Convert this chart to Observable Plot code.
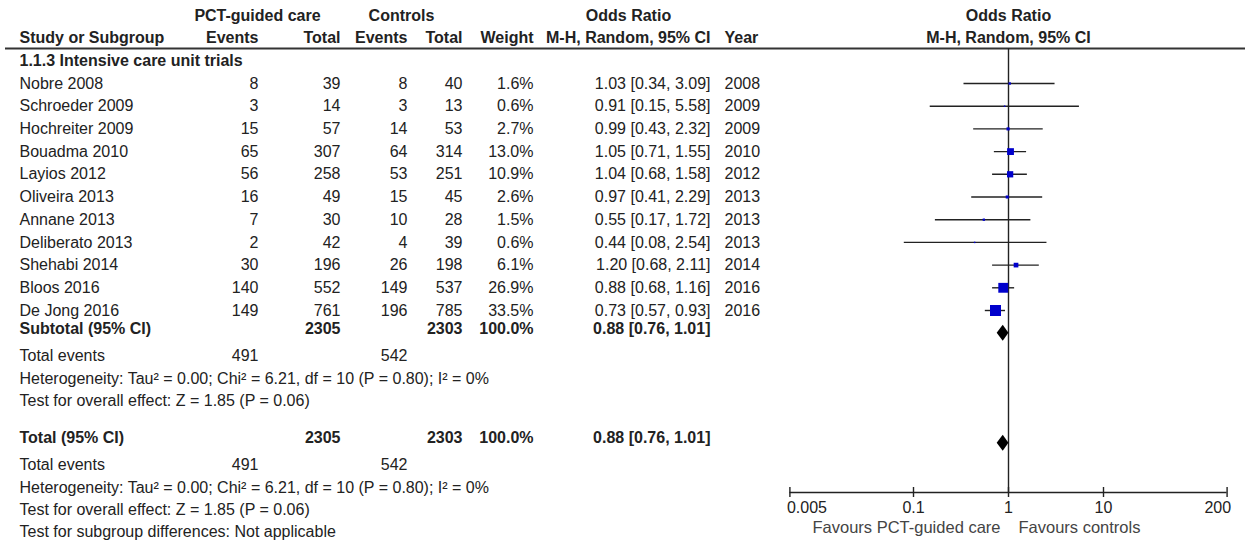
<!DOCTYPE html>
<html><head><meta charset="utf-8">
<script src="https://cdn.jsdelivr.net/npm/d3@7"></script>
<script src="https://cdn.jsdelivr.net/npm/@observablehq/plot@0.6"></script>
<style>body{margin:0;background:#fff}</style>
</head><body><div id="chart"></div>
<script>
// ---------- data ----------
const studies = ["Nobre 2008","Schroeder 2009","Hochreiter 2009","Bouadma 2010","Layios 2012","Oliveira 2013","Annane 2013","Deliberato 2013","Shehabi 2014","Bloos 2016","De Jong 2016"];
const pctEvents = [8,3,15,65,56,16,7,2,30,140,149];
const pctTotal = [39,14,57,307,258,49,30,42,196,552,761];
const ctrlEvents = [8,3,14,64,53,15,10,4,26,149,196];
const ctrlTotal = [40,13,53,314,251,45,28,39,198,537,785];
const weights = [1.6,0.6,2.7,13.0,10.9,2.6,1.5,0.6,6.1,26.9,33.5];
const oddsRatio = [1.03,0.91,0.99,1.05,1.04,0.97,0.55,0.44,1.20,0.88,0.73];
const ciLow = [0.34,0.15,0.43,0.71,0.68,0.41,0.17,0.08,0.68,0.68,0.57];
const ciHigh = [3.09,5.58,2.32,1.55,1.58,2.29,1.72,2.54,2.11,1.16,0.93];
const years = [2008,2009,2009,2010,2012,2013,2013,2013,2014,2016,2016];

const pooledOR = 0.88, pooledLow = 0.76, pooledHigh = 1.01;
const sumPctTotal = 2305, sumCtrlTotal = 2303, sumWeight = 100.0;
const sumPctEvents = 491, sumCtrlEvents = 542;
const heterogeneityText = "Heterogeneity: Tau² = 0.00; Chi² = 6.21, df = 10 (P = 0.80); I² = 0%";
const overallText = "Test for overall effect: Z = 1.85 (P = 0.06)";
const subgroupText = "Test for subgroup differences: Not applicable";
const axisTicks = [0.005, 0.1, 1, 10, 200];
const axisTickLabels = ["0.005","0.1","1","10","200"];

// ---------- layout ----------
const W = 1245, H = 552;
const rowStep = 22.7, row0 = 83, axisPx = 492;
const axisRow = (axisPx - row0) / rowStep;
const headerLineRow = (48 - row0) / rowStep;
const n = studies.length;
const R = {subtotal: n - 0.2, subDiamond: n, events1: n + 1, het1: n + 2, test1: n + 3,
  total: n + 4.6, totDiamond: n + 4.85, events2: n + 5.8, het2: n + 6.8, test2: n + 7.8,
  subgroup: n + 8.75, favours: n + 8.56};
const diamondHalf = 8 / rowStep;
const ink = "#222";

const f2 = d3.format(".2f"), f1 = d3.format(".1f");
const ciText = (o, l, h) => `${f2(o)} [${f2(l)}, ${f2(h)}]`;
const s = v => String(v);

const studyRows = studies.map((name, i) => ({
  row: i, name, pe: s(pctEvents[i]), pt: s(pctTotal[i]), ce: s(ctrlEvents[i]), ct: s(ctrlTotal[i]),
  wt: f1(weights[i]) + "%", ci: ciText(oddsRatio[i], ciLow[i], ciHigh[i]), year: s(years[i]),
  or: oddsRatio[i], lo: ciLow[i], hi: ciHigh[i], w: weights[i]
}));
const regularRows = [
  ...studyRows,
  {row: R.events1, name: "Total events", pe: s(sumPctEvents), ce: s(sumCtrlEvents)},
  {row: R.het1, name: heterogeneityText},
  {row: R.test1, name: overallText},
  {row: R.events2, name: "Total events", pe: s(sumPctEvents), ce: s(sumCtrlEvents)},
  {row: R.het2, name: heterogeneityText},
  {row: R.test2, name: overallText},
  {row: R.subgroup, name: subgroupText}
];
const boldRows = [
  {row: -2, name: "Study or Subgroup", pe: "Events", pt: "Total", ce: "Events", ct: "Total", wt: "Weight", ci: "M-H, Random, 95% CI", year: "Year"},
  {row: -1, name: "1.1.3 Intensive care unit trials"},
  {row: R.subtotal, name: "Subtotal (95% CI)", pt: s(sumPctTotal), ct: s(sumCtrlTotal), wt: f1(sumWeight) + "%", ci: ciText(pooledOR, pooledLow, pooledHigh)},
  {row: R.total, name: "Total (95% CI)", pt: s(sumPctTotal), ct: s(sumCtrlTotal), wt: f1(sumWeight) + "%", ci: ciText(pooledOR, pooledLow, pooledHigh)}
];
const columns = [
  {key: "name", x: 19, anchor: "start"},
  {key: "pe", x: 258, anchor: "end"},
  {key: "pt", x: 340, anchor: "end"},
  {key: "ce", x: 407, anchor: "end"},
  {key: "ct", x: 462, anchor: "end"},
  {key: "wt", x: 533, anchor: "end"},
  {key: "ci", x: 710, anchor: "end"},
  {key: "year", x: 724, anchor: "start"}
];
const groupHeaders = [
  {text: "PCT-guided care", x: 257},
  {text: "Controls", x: 401},
  {text: "Odds Ratio", x: 628}
];

const tableMarks = columns.flatMap(c => [
  Plot.text(regularRows.filter(d => d[c.key] != null), {y: "row", text: c.key, frameAnchor: "left", dx: c.x, textAnchor: c.anchor, fill: ink}),
  Plot.text(boldRows.filter(d => d[c.key] != null), {y: "row", text: c.key, frameAnchor: "left", dx: c.x, textAnchor: c.anchor, fill: ink, fontWeight: "bold"})
]);
const groupMarks = groupHeaders.map(g =>
  Plot.text([g], {y: () => -3, text: "text", frameAnchor: "left", dx: g.x, textAnchor: "middle", fontWeight: "bold", fill: ink}));

const diamonds = [
  {g: "sub", row: R.subDiamond}, {g: "tot", row: R.totDiamond}
].flatMap(d => [
  {g: d.g, x: pooledLow, y1: d.row, y2: d.row},
  {g: d.g, x: pooledOR, y1: d.row - diamondHalf, y2: d.row + diamondHalf},
  {g: d.g, x: pooledHigh, y1: d.row, y2: d.row}
]);

const chart = Plot.plot({
  width: W, height: H,
  marginTop: 0, marginLeft: 0, marginRight: 0, marginBottom: H - axisPx,
  style: {fontFamily: "'Liberation Sans', Arial, sans-serif", fontSize: "16px", background: "#fff"},
  x: {type: "log", domain: [0.005, 200], range: [1008 - 95 * Math.log10(200), 1008 + 95 * Math.log10(200)], axis: null},
  y: {type: "linear", domain: [-row0 / rowStep, axisRow], range: [0, axisPx], axis: null},
  r: {type: "sqrt", domain: [0, d3.max(weights)], range: [0, 6.2]},
  marks: [
    Plot.ruleY([headerLineRow], {stroke: "#333", strokeWidth: 2, insetLeft: 5}),
    Plot.ruleX([1], {y1: headerLineRow, y2: axisRow, stroke: ink, strokeWidth: 1.4}),
    Plot.ruleY(studyRows, {y: "row", x1: "lo", x2: "hi", stroke: ink, strokeWidth: 1.4}),
    Plot.dot(studyRows, {x: "or", y: "row", r: "w", symbol: "square", fill: "#0000cc"}),
    Plot.areaY(diamonds, {x: "x", y1: "y1", y2: "y2", z: "g", fill: "#000", curve: "linear"}),
    Plot.ruleY([axisRow], {x1: axisTicks[0], x2: axisTicks[axisTicks.length - 1], stroke: ink, strokeWidth: 1.4}),
    Plot.ruleX(axisTicks, {x: d => d, y1: () => axisRow, y2: () => axisRow, insetTop: -5, insetBottom: -5, stroke: ink, strokeWidth: 1.4}),
    Plot.text(axisTicks.slice(1, -1), {x: d => d, y: () => axisRow, dy: 15, text: d => axisTickLabels[axisTicks.indexOf(d)], fill: ink}),
    Plot.text([axisTicks[0]], {x: d => d, y: () => axisRow, dy: 15, dx: -3, textAnchor: "start", text: () => axisTickLabels[0], fill: ink}),
    Plot.text([axisTicks[axisTicks.length - 1]], {x: d => d, y: () => axisRow, dy: 15, dx: 4, textAnchor: "end", text: () => axisTickLabels[axisTickLabels.length - 1], fill: ink}),
    Plot.text(["Favours PCT-guided care"], {x: () => 1, y: () => R.favours, dx: -8, textAnchor: "end", text: d => d, fill: "#444", fontSize: 16.5}),
    Plot.text(["Favours controls"], {x: () => 1, y: () => R.favours, dx: 10, textAnchor: "start", text: d => d, fill: "#444", fontSize: 16.5}),
    Plot.text(["Odds Ratio"], {x: () => 1, y: () => -3, text: d => d, fontWeight: "bold", fill: ink}),
    Plot.text(["M-H, Random, 95% CI"], {x: () => 1, y: () => -2, text: d => d, fontWeight: "bold", fill: ink}),
    ...groupMarks,
    ...tableMarks
  ]
});
document.getElementById("chart").appendChild(chart);
</script>
</body></html>
